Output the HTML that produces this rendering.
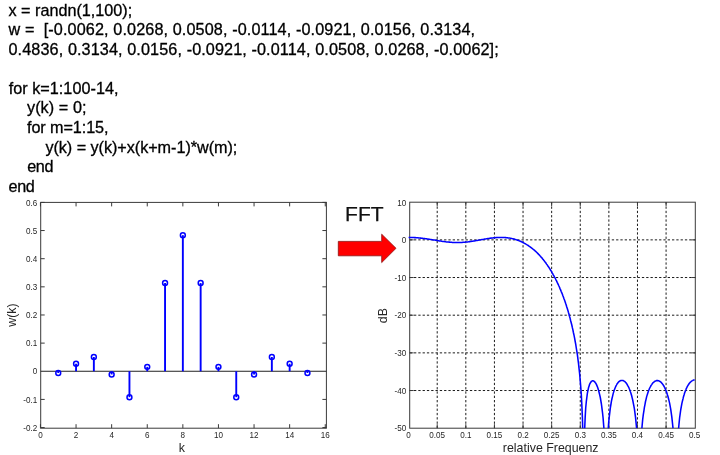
<!DOCTYPE html>
<html><head><meta charset="utf-8"><title>FIR</title>
<style>
html,body{margin:0;padding:0;background:#fff;}
body{width:720px;height:455px;position:relative;overflow:hidden;font-family:"Liberation Sans",Arial,sans-serif;color:#000;}
.code{position:absolute;left:8.5px;top:0.5px;margin:0;font-size:16.2px;line-height:19.6px;color:#000;-webkit-text-stroke:0.3px #000;}
.ln{white-space:pre;height:19.6px;}
.fft{position:absolute;left:345.1px;top:202.3px;font-size:21px;line-height:24px;color:#111;-webkit-text-stroke:0.25px #111;}
</style></head><body>
<svg width="720" height="455" viewBox="0 0 720 455" style="position:absolute;left:0;top:0;filter:blur(0.45px)">
<g font-family="Liberation Sans, Arial, sans-serif" fill="#262626">
<rect x="40.7" y="202.4" width="285.70" height="225.80" fill="#fff" stroke="#3a3a3a" stroke-width="1"/>
<path d="M40.45 428.2v-4M40.45 202.4v4" stroke="#3a3a3a" stroke-width="1"/>
<text transform="translate(40.45 437.70) scale(0.88 1)" font-size="9.2" text-anchor="middle">0</text>
<path d="M76.05 428.2v-4M76.05 202.4v4" stroke="#3a3a3a" stroke-width="1"/>
<text transform="translate(76.05 437.70) scale(0.88 1)" font-size="9.2" text-anchor="middle">2</text>
<path d="M111.65 428.2v-4M111.65 202.4v4" stroke="#3a3a3a" stroke-width="1"/>
<text transform="translate(111.65 437.70) scale(0.88 1)" font-size="9.2" text-anchor="middle">4</text>
<path d="M147.25 428.2v-4M147.25 202.4v4" stroke="#3a3a3a" stroke-width="1"/>
<text transform="translate(147.25 437.70) scale(0.88 1)" font-size="9.2" text-anchor="middle">6</text>
<path d="M182.85 428.2v-4M182.85 202.4v4" stroke="#3a3a3a" stroke-width="1"/>
<text transform="translate(182.85 437.70) scale(0.88 1)" font-size="9.2" text-anchor="middle">8</text>
<path d="M218.45 428.2v-4M218.45 202.4v4" stroke="#3a3a3a" stroke-width="1"/>
<text transform="translate(218.45 437.70) scale(0.88 1)" font-size="9.2" text-anchor="middle">10</text>
<path d="M254.05 428.2v-4M254.05 202.4v4" stroke="#3a3a3a" stroke-width="1"/>
<text transform="translate(254.05 437.70) scale(0.88 1)" font-size="9.2" text-anchor="middle">12</text>
<path d="M289.65 428.2v-4M289.65 202.4v4" stroke="#3a3a3a" stroke-width="1"/>
<text transform="translate(289.65 437.70) scale(0.88 1)" font-size="9.2" text-anchor="middle">14</text>
<path d="M325.25 428.2v-4M325.25 202.4v4" stroke="#3a3a3a" stroke-width="1"/>
<text transform="translate(325.25 437.70) scale(0.88 1)" font-size="9.2" text-anchor="middle">16</text>
<path d="M40.7 427.55h4M326.4 427.55h-4" stroke="#3a3a3a" stroke-width="1"/>
<text transform="translate(37.20 430.75) scale(0.88 1)" font-size="9.2" text-anchor="end">-0.2</text>
<path d="M40.7 399.41h4M326.4 399.41h-4" stroke="#3a3a3a" stroke-width="1"/>
<text transform="translate(37.20 402.61) scale(0.88 1)" font-size="9.2" text-anchor="end">-0.1</text>
<text transform="translate(37.20 374.46) scale(0.88 1)" font-size="9.2" text-anchor="end">0</text>
<path d="M40.7 343.12h4M326.4 343.12h-4" stroke="#3a3a3a" stroke-width="1"/>
<text transform="translate(37.20 346.32) scale(0.88 1)" font-size="9.2" text-anchor="end">0.1</text>
<path d="M40.7 314.98h4M326.4 314.98h-4" stroke="#3a3a3a" stroke-width="1"/>
<text transform="translate(37.20 318.18) scale(0.88 1)" font-size="9.2" text-anchor="end">0.2</text>
<path d="M40.7 286.83h4M326.4 286.83h-4" stroke="#3a3a3a" stroke-width="1"/>
<text transform="translate(37.20 290.03) scale(0.88 1)" font-size="9.2" text-anchor="end">0.3</text>
<path d="M40.7 258.69h4M326.4 258.69h-4" stroke="#3a3a3a" stroke-width="1"/>
<text transform="translate(37.20 261.89) scale(0.88 1)" font-size="9.2" text-anchor="end">0.4</text>
<path d="M40.7 230.54h4M326.4 230.54h-4" stroke="#3a3a3a" stroke-width="1"/>
<text transform="translate(37.20 233.74) scale(0.88 1)" font-size="9.2" text-anchor="end">0.5</text>
<path d="M40.7 202.40h4M326.4 202.40h-4" stroke="#3a3a3a" stroke-width="1"/>
<text transform="translate(37.20 205.60) scale(0.88 1)" font-size="9.2" text-anchor="end">0.6</text>
<path d="M40.7 371.26H326.4" stroke="#222" stroke-width="1"/>
<path d="M58.25 371.26V373.01" stroke="#0000ff" stroke-width="1.9"/>
<circle cx="58.25" cy="373.01" r="2.45" fill="none" stroke="#0000ff" stroke-width="1.5"/>
<path d="M76.05 371.26V363.72" stroke="#0000ff" stroke-width="1.9"/>
<circle cx="76.05" cy="363.72" r="2.45" fill="none" stroke="#0000ff" stroke-width="1.5"/>
<path d="M93.85 371.26V356.97" stroke="#0000ff" stroke-width="1.9"/>
<circle cx="93.85" cy="356.97" r="2.45" fill="none" stroke="#0000ff" stroke-width="1.5"/>
<path d="M111.65 371.26V374.47" stroke="#0000ff" stroke-width="1.9"/>
<circle cx="111.65" cy="374.47" r="2.45" fill="none" stroke="#0000ff" stroke-width="1.5"/>
<path d="M129.45 371.26V397.18" stroke="#0000ff" stroke-width="1.9"/>
<circle cx="129.45" cy="397.18" r="2.45" fill="none" stroke="#0000ff" stroke-width="1.5"/>
<path d="M147.25 371.26V366.87" stroke="#0000ff" stroke-width="1.9"/>
<circle cx="147.25" cy="366.87" r="2.45" fill="none" stroke="#0000ff" stroke-width="1.5"/>
<path d="M165.05 371.26V283.06" stroke="#0000ff" stroke-width="1.9"/>
<circle cx="165.05" cy="283.06" r="2.45" fill="none" stroke="#0000ff" stroke-width="1.5"/>
<path d="M182.85 371.26V235.16" stroke="#0000ff" stroke-width="1.9"/>
<circle cx="182.85" cy="235.16" r="2.45" fill="none" stroke="#0000ff" stroke-width="1.5"/>
<path d="M200.65 371.26V283.06" stroke="#0000ff" stroke-width="1.9"/>
<circle cx="200.65" cy="283.06" r="2.45" fill="none" stroke="#0000ff" stroke-width="1.5"/>
<path d="M218.45 371.26V366.87" stroke="#0000ff" stroke-width="1.9"/>
<circle cx="218.45" cy="366.87" r="2.45" fill="none" stroke="#0000ff" stroke-width="1.5"/>
<path d="M236.25 371.26V397.18" stroke="#0000ff" stroke-width="1.9"/>
<circle cx="236.25" cy="397.18" r="2.45" fill="none" stroke="#0000ff" stroke-width="1.5"/>
<path d="M254.05 371.26V374.47" stroke="#0000ff" stroke-width="1.9"/>
<circle cx="254.05" cy="374.47" r="2.45" fill="none" stroke="#0000ff" stroke-width="1.5"/>
<path d="M271.85 371.26V356.97" stroke="#0000ff" stroke-width="1.9"/>
<circle cx="271.85" cy="356.97" r="2.45" fill="none" stroke="#0000ff" stroke-width="1.5"/>
<path d="M289.65 371.26V363.72" stroke="#0000ff" stroke-width="1.9"/>
<circle cx="289.65" cy="363.72" r="2.45" fill="none" stroke="#0000ff" stroke-width="1.5"/>
<path d="M307.45 371.26V373.01" stroke="#0000ff" stroke-width="1.9"/>
<circle cx="307.45" cy="373.01" r="2.45" fill="none" stroke="#0000ff" stroke-width="1.5"/>
<text x="181.9" y="452.2" font-size="12.4" text-anchor="middle">k</text>
<text transform="translate(15.6 315) rotate(-90)" font-size="12.4" text-anchor="middle">w(k)</text>
<rect x="409.7" y="202.2" width="285.60" height="226.00" fill="#fff" stroke="#3a3a3a" stroke-width="1"/>
<text transform="translate(408.60 437.70) scale(0.88 1)" font-size="9.2" text-anchor="middle">0</text>
<path d="M437.21 202.2V428.2" stroke="#1c1c1c" stroke-width="1" stroke-dasharray="2.3 2"/>
<path d="M437.21 428.2v-4M437.21 202.2v4" stroke="#3a3a3a" stroke-width="1"/>
<text transform="translate(437.21 437.70) scale(0.88 1)" font-size="9.2" text-anchor="middle">0.05</text>
<path d="M465.82 202.2V428.2" stroke="#1c1c1c" stroke-width="1" stroke-dasharray="2.3 2"/>
<path d="M465.82 428.2v-4M465.82 202.2v4" stroke="#3a3a3a" stroke-width="1"/>
<text transform="translate(465.82 437.70) scale(0.88 1)" font-size="9.2" text-anchor="middle">0.1</text>
<path d="M494.43 202.2V428.2" stroke="#1c1c1c" stroke-width="1" stroke-dasharray="2.3 2"/>
<path d="M494.43 428.2v-4M494.43 202.2v4" stroke="#3a3a3a" stroke-width="1"/>
<text transform="translate(494.43 437.70) scale(0.88 1)" font-size="9.2" text-anchor="middle">0.15</text>
<path d="M523.04 202.2V428.2" stroke="#1c1c1c" stroke-width="1" stroke-dasharray="2.3 2"/>
<path d="M523.04 428.2v-4M523.04 202.2v4" stroke="#3a3a3a" stroke-width="1"/>
<text transform="translate(523.04 437.70) scale(0.88 1)" font-size="9.2" text-anchor="middle">0.2</text>
<path d="M551.65 202.2V428.2" stroke="#1c1c1c" stroke-width="1" stroke-dasharray="2.3 2"/>
<path d="M551.65 428.2v-4M551.65 202.2v4" stroke="#3a3a3a" stroke-width="1"/>
<text transform="translate(551.65 437.70) scale(0.88 1)" font-size="9.2" text-anchor="middle">0.25</text>
<path d="M580.26 202.2V428.2" stroke="#1c1c1c" stroke-width="1" stroke-dasharray="2.3 2"/>
<path d="M580.26 428.2v-4M580.26 202.2v4" stroke="#3a3a3a" stroke-width="1"/>
<text transform="translate(580.26 437.70) scale(0.88 1)" font-size="9.2" text-anchor="middle">0.3</text>
<path d="M608.87 202.2V428.2" stroke="#1c1c1c" stroke-width="1" stroke-dasharray="2.3 2"/>
<path d="M608.87 428.2v-4M608.87 202.2v4" stroke="#3a3a3a" stroke-width="1"/>
<text transform="translate(608.87 437.70) scale(0.88 1)" font-size="9.2" text-anchor="middle">0.35</text>
<path d="M637.48 202.2V428.2" stroke="#1c1c1c" stroke-width="1" stroke-dasharray="2.3 2"/>
<path d="M637.48 428.2v-4M637.48 202.2v4" stroke="#3a3a3a" stroke-width="1"/>
<text transform="translate(637.48 437.70) scale(0.88 1)" font-size="9.2" text-anchor="middle">0.4</text>
<path d="M666.09 202.2V428.2" stroke="#1c1c1c" stroke-width="1" stroke-dasharray="2.3 2"/>
<path d="M666.09 428.2v-4M666.09 202.2v4" stroke="#3a3a3a" stroke-width="1"/>
<text transform="translate(666.09 437.70) scale(0.88 1)" font-size="9.2" text-anchor="middle">0.45</text>
<text transform="translate(694.70 437.70) scale(0.88 1)" font-size="9.2" text-anchor="middle">0.5</text>
<text transform="translate(406.20 206.00) scale(0.88 1)" font-size="9.2" text-anchor="end">10</text>
<path d="M409.7 239.87H695.3" stroke="#1c1c1c" stroke-width="1" stroke-dasharray="2.3 2"/>
<path d="M409.7 239.87h4M695.3 239.87h-4" stroke="#3a3a3a" stroke-width="1"/>
<text transform="translate(406.20 243.07) scale(0.88 1)" font-size="9.2" text-anchor="end">0</text>
<path d="M409.7 277.53H695.3" stroke="#1c1c1c" stroke-width="1" stroke-dasharray="2.3 2"/>
<path d="M409.7 277.53h4M695.3 277.53h-4" stroke="#3a3a3a" stroke-width="1"/>
<text transform="translate(406.20 280.73) scale(0.88 1)" font-size="9.2" text-anchor="end">-10</text>
<path d="M409.7 315.20H695.3" stroke="#1c1c1c" stroke-width="1" stroke-dasharray="2.3 2"/>
<path d="M409.7 315.20h4M695.3 315.20h-4" stroke="#3a3a3a" stroke-width="1"/>
<text transform="translate(406.20 318.40) scale(0.88 1)" font-size="9.2" text-anchor="end">-20</text>
<path d="M409.7 352.87H695.3" stroke="#1c1c1c" stroke-width="1" stroke-dasharray="2.3 2"/>
<path d="M409.7 352.87h4M695.3 352.87h-4" stroke="#3a3a3a" stroke-width="1"/>
<text transform="translate(406.20 356.07) scale(0.88 1)" font-size="9.2" text-anchor="end">-30</text>
<path d="M409.7 390.53H695.3" stroke="#1c1c1c" stroke-width="1" stroke-dasharray="2.3 2"/>
<path d="M409.7 390.53h4M695.3 390.53h-4" stroke="#3a3a3a" stroke-width="1"/>
<text transform="translate(406.20 393.73) scale(0.88 1)" font-size="9.2" text-anchor="end">-40</text>
<text transform="translate(406.20 431.40) scale(0.88 1)" font-size="9.2" text-anchor="end">-50</text>
<polyline points="408.6,237.4 409.2,237.4 409.7,237.4 410.3,237.4 410.8,237.5 411.4,237.5 412.0,237.5 412.5,237.5 413.1,237.5 413.6,237.5 414.2,237.6 414.7,237.6 415.3,237.6 415.9,237.7 416.4,237.7 417.0,237.8 417.5,237.8 418.1,237.8 418.7,237.9 419.2,237.9 419.8,238.0 420.3,238.1 420.9,238.1 421.5,238.2 422.0,238.2 422.6,238.3 423.1,238.4 423.7,238.4 424.2,238.5 424.8,238.6 425.4,238.7 425.9,238.7 426.5,238.8 427.0,238.9 427.6,239.0 428.2,239.1 428.7,239.2 429.3,239.2 429.8,239.3 430.4,239.4 431.0,239.5 431.5,239.6 432.1,239.7 432.6,239.8 433.2,239.9 433.7,240.0 434.3,240.0 434.9,240.1 435.4,240.2 436.0,240.3 436.5,240.4 437.1,240.5 437.7,240.6 438.2,240.7 438.8,240.8 439.3,240.9 439.9,240.9 440.5,241.0 441.0,241.1 441.6,241.2 442.1,241.3 442.7,241.4 443.2,241.4 443.8,241.5 444.4,241.6 444.9,241.7 445.5,241.7 446.0,241.8 446.6,241.9 447.2,241.9 447.7,242.0 448.3,242.0 448.8,242.1 449.4,242.1 450.0,242.2 450.5,242.2 451.1,242.3 451.6,242.3 452.2,242.4 452.7,242.4 453.3,242.4 453.9,242.4 454.4,242.5 455.0,242.5 455.5,242.5 456.1,242.5 456.7,242.5 457.2,242.5 457.8,242.5 458.3,242.5 458.9,242.5 459.4,242.5 460.0,242.5 460.6,242.4 461.1,242.4 461.7,242.4 462.2,242.4 462.8,242.3 463.4,242.3 463.9,242.2 464.5,242.2 465.0,242.2 465.6,242.1 466.2,242.0 466.7,242.0 467.3,241.9 467.8,241.9 468.4,241.8 468.9,241.7 469.5,241.6 470.1,241.6 470.6,241.5 471.2,241.4 471.7,241.3 472.3,241.2 472.9,241.2 473.4,241.1 474.0,241.0 474.5,240.9 475.1,240.8 475.7,240.7 476.2,240.6 476.8,240.5 477.3,240.4 477.9,240.3 478.4,240.2 479.0,240.1 479.6,240.0 480.1,239.9 480.7,239.8 481.2,239.7 481.8,239.6 482.4,239.5 482.9,239.4 483.5,239.3 484.0,239.2 484.6,239.1 485.2,239.0 485.7,238.9 486.3,238.8 486.8,238.7 487.4,238.6 487.9,238.5 488.5,238.5 489.1,238.4 489.6,238.3 490.2,238.2 490.7,238.1 491.3,238.1 491.9,238.0 492.4,237.9 493.0,237.9 493.5,237.8 494.1,237.8 494.7,237.7 495.2,237.7 495.8,237.6 496.3,237.6 496.9,237.5 497.4,237.5 498.0,237.5 498.6,237.5 499.1,237.4 499.7,237.4 500.2,237.4 500.8,237.4 501.4,237.4 501.9,237.4 502.5,237.4 503.0,237.5 503.6,237.5 504.2,237.5 504.7,237.5 505.3,237.6 505.8,237.6 506.4,237.7 506.9,237.7 507.5,237.8 508.1,237.9 508.6,238.0 509.2,238.0 509.7,238.1 510.3,238.2 510.9,238.3 511.4,238.4 512.0,238.6 512.5,238.7 513.1,238.8 513.7,239.0 514.2,239.1 514.8,239.3 515.3,239.4 515.9,239.6 516.4,239.8 517.0,240.0 517.6,240.2 518.1,240.4 518.7,240.6 519.2,240.8 519.8,241.0 520.4,241.3 520.9,241.5 521.5,241.8 522.0,242.0 522.6,242.3 523.2,242.6 523.7,242.9 524.3,243.2 524.8,243.5 525.4,243.8 525.9,244.1 526.5,244.4 527.1,244.8 527.6,245.1 528.2,245.5 528.7,245.9 529.3,246.3 529.9,246.7 530.4,247.1 531.0,247.5 531.5,247.9 532.1,248.4 532.7,248.8 533.2,249.3 533.8,249.7 534.3,250.2 534.9,250.7 535.4,251.2 536.0,251.7 536.6,252.3 537.1,252.8 537.7,253.4 538.2,253.9 538.8,254.5 539.4,255.1 539.9,255.7 540.5,256.3 541.0,257.0 541.6,257.6 542.2,258.3 542.7,259.0 543.3,259.6 543.8,260.3 544.4,261.1 544.9,261.8 545.5,262.5 546.1,263.3 546.6,264.1 547.2,264.9 547.7,265.7 548.3,266.5 548.9,267.4 549.4,268.2 550.0,269.1 550.5,270.0 551.1,270.9 551.7,271.9 552.2,272.8 552.8,273.8 553.3,274.8 553.9,275.8 554.4,276.9 555.0,277.9 555.6,279.0 556.1,280.1 556.7,281.2 557.2,282.4 557.8,283.6 558.4,284.8 558.9,286.0 559.5,287.3 560.0,288.6 560.6,289.9 561.1,291.2 561.7,292.6 562.3,294.0 562.8,295.5 563.4,297.0 563.9,298.5 564.5,300.1 565.1,301.7 565.6,303.3 566.2,305.0 566.7,306.7 567.3,308.5 567.9,310.4 568.4,312.3 569.0,314.2 569.5,316.2 570.1,318.3 570.6,320.5 571.2,322.7 571.8,325.0 572.3,327.4 572.9,329.9 573.4,332.5 574.0,335.2 574.6,338.1 575.1,341.0 575.7,344.2 576.2,347.5 576.8,351.1 577.4,354.8 577.9,358.9 578.5,363.3 579.0,368.1 579.6,373.4 580.1,379.3 580.7,386.2 581.3,394.3 581.8,404.3 582.4,417.6 582.7,428.2" fill="none" stroke="#0000ff" stroke-width="1.55" stroke-linejoin="round"/>
<polyline points="584.7,428.2 585.2,416.7 585.7,408.0 586.3,401.7 586.9,397.0 587.4,393.2 588.0,390.2 588.5,387.8 589.1,385.9 589.6,384.3 590.2,383.1 590.8,382.2 591.3,381.5 591.9,381.1 592.4,380.8 593.0,380.8 593.6,380.9 594.1,381.3 594.7,381.8 595.2,382.5 595.8,383.3 596.4,384.4 596.9,385.6 597.5,387.0 598.0,388.6 598.6,390.4 599.1,392.5 599.7,394.9 600.3,397.5 600.8,400.5 601.4,404.0 601.9,407.9 602.5,412.5 603.1,418.0 603.6,424.6 603.9,428.2" fill="none" stroke="#0000ff" stroke-width="1.55" stroke-linejoin="round"/>
<polyline points="608.3,428.2 608.6,423.5 609.2,417.4 609.8,412.4 610.3,408.1 610.9,404.5 611.4,401.3 612.0,398.5 612.6,396.1 613.1,393.9 613.7,391.9 614.2,390.2 614.8,388.7 615.4,387.3 615.9,386.1 616.5,385.0 617.0,384.0 617.6,383.2 618.1,382.5 618.7,381.9 619.3,381.4 619.8,381.0 620.4,380.7 620.9,380.5 621.5,380.4 622.1,380.4 622.6,380.4 623.2,380.6 623.7,380.9 624.3,381.2 624.9,381.6 625.4,382.2 626.0,382.8 626.5,383.5 627.1,384.3 627.6,385.3 628.2,386.3 628.8,387.5 629.3,388.8 629.9,390.2 630.4,391.8 631.0,393.5 631.6,395.5 632.1,397.6 632.7,400.0 633.2,402.6 633.8,405.6 634.4,408.9 634.9,412.7 635.5,417.1 636.0,422.2 636.6,428.2" fill="none" stroke="#0000ff" stroke-width="1.55" stroke-linejoin="round"/>
<polyline points="641.9,428.2 642.2,424.8 642.7,419.4 643.3,414.7 643.9,410.8 644.4,407.3 645.0,404.3 645.5,401.5 646.1,399.1 646.6,396.9 647.2,394.9 647.8,393.1 648.3,391.5 648.9,390.0 649.4,388.7 650.0,387.5 650.6,386.4 651.1,385.4 651.7,384.6 652.2,383.8 652.8,383.1 653.3,382.5 653.9,382.0 654.5,381.6 655.0,381.2 655.6,380.9 656.1,380.8 656.7,380.6 657.3,380.6 657.8,380.6 658.4,380.7 658.9,380.9 659.5,381.2 660.1,381.5 660.6,381.9 661.2,382.4 661.7,383.0 662.3,383.7 662.8,384.4 663.4,385.3 664.0,386.2 664.5,387.3 665.1,388.4 665.6,389.7 666.2,391.1 666.8,392.7 667.3,394.4 667.9,396.2 668.4,398.3 669.0,400.6 669.6,403.1 670.1,405.9 670.7,409.1 671.2,412.7 671.8,416.8 672.3,421.5 672.9,427.2 673.0,428.2" fill="none" stroke="#0000ff" stroke-width="1.55" stroke-linejoin="round"/>
<polyline points="678.6,428.2 679.1,423.0 679.6,418.0 680.2,413.7 680.7,410.0 681.3,406.7 681.8,403.8 682.4,401.2 683.0,398.9 683.5,396.7 684.1,394.8 684.6,393.0 685.2,391.4 685.8,390.0 686.3,388.6 686.9,387.4 687.4,386.3 688.0,385.3 688.6,384.5 689.1,383.6 689.7,382.9 690.2,382.3 690.8,381.8 691.3,381.3 691.9,380.9 692.5,380.6 693.0,380.3 693.6,380.1 694.1,380.0 694.7,380.0" fill="none" stroke="#0000ff" stroke-width="1.55" stroke-linejoin="round"/>
<text x="550.7" y="452" font-size="12.4" text-anchor="middle">relative Frequenz</text>
<text transform="translate(387 315.6) rotate(-90)" font-size="12.4" text-anchor="middle">dB</text>
</g>
<path d="M338.3 241.4H381.7V234.2L396 248.3L381.7 262.6V255.8H338.3Z" fill="#ff0000" stroke="#8a1010" stroke-width="0.8" stroke-linejoin="miter"/>
</svg>
<div class="code">
<div class="ln">x = randn(1,100);</div>
<div class="ln" style="letter-spacing:0.117px">w =  [-0.0062, 0.0268, 0.0508, -0.0114, -0.0921, 0.0156, 0.3134,</div>
<div class="ln" style="letter-spacing:0.109px">0.4836, 0.3134, 0.0156, -0.0921, -0.0114, 0.0508, 0.0268, -0.0062];</div>
<div class="ln">&nbsp;</div>
<div class="ln" style="margin-left:0.2px;letter-spacing:0.03px">for k=1:100-14,</div>
<div class="ln" style="margin-left:18.5px;letter-spacing:0.07px">y(k) = 0;</div>
<div class="ln" style="margin-left:18.5px;letter-spacing:-0.08px">for m=1:15,</div>
<div class="ln" style="margin-left:36.9px;letter-spacing:-0.04px">y(k) = y(k)+x(k+m-1)*w(m);</div>
<div class="ln" style="margin-left:18.7px;letter-spacing:-0.4px">end</div>
<div class="ln" style="margin-left:0.1px;letter-spacing:-0.4px">end</div>
</div>
<div class="fft">FFT</div>
</body></html>
